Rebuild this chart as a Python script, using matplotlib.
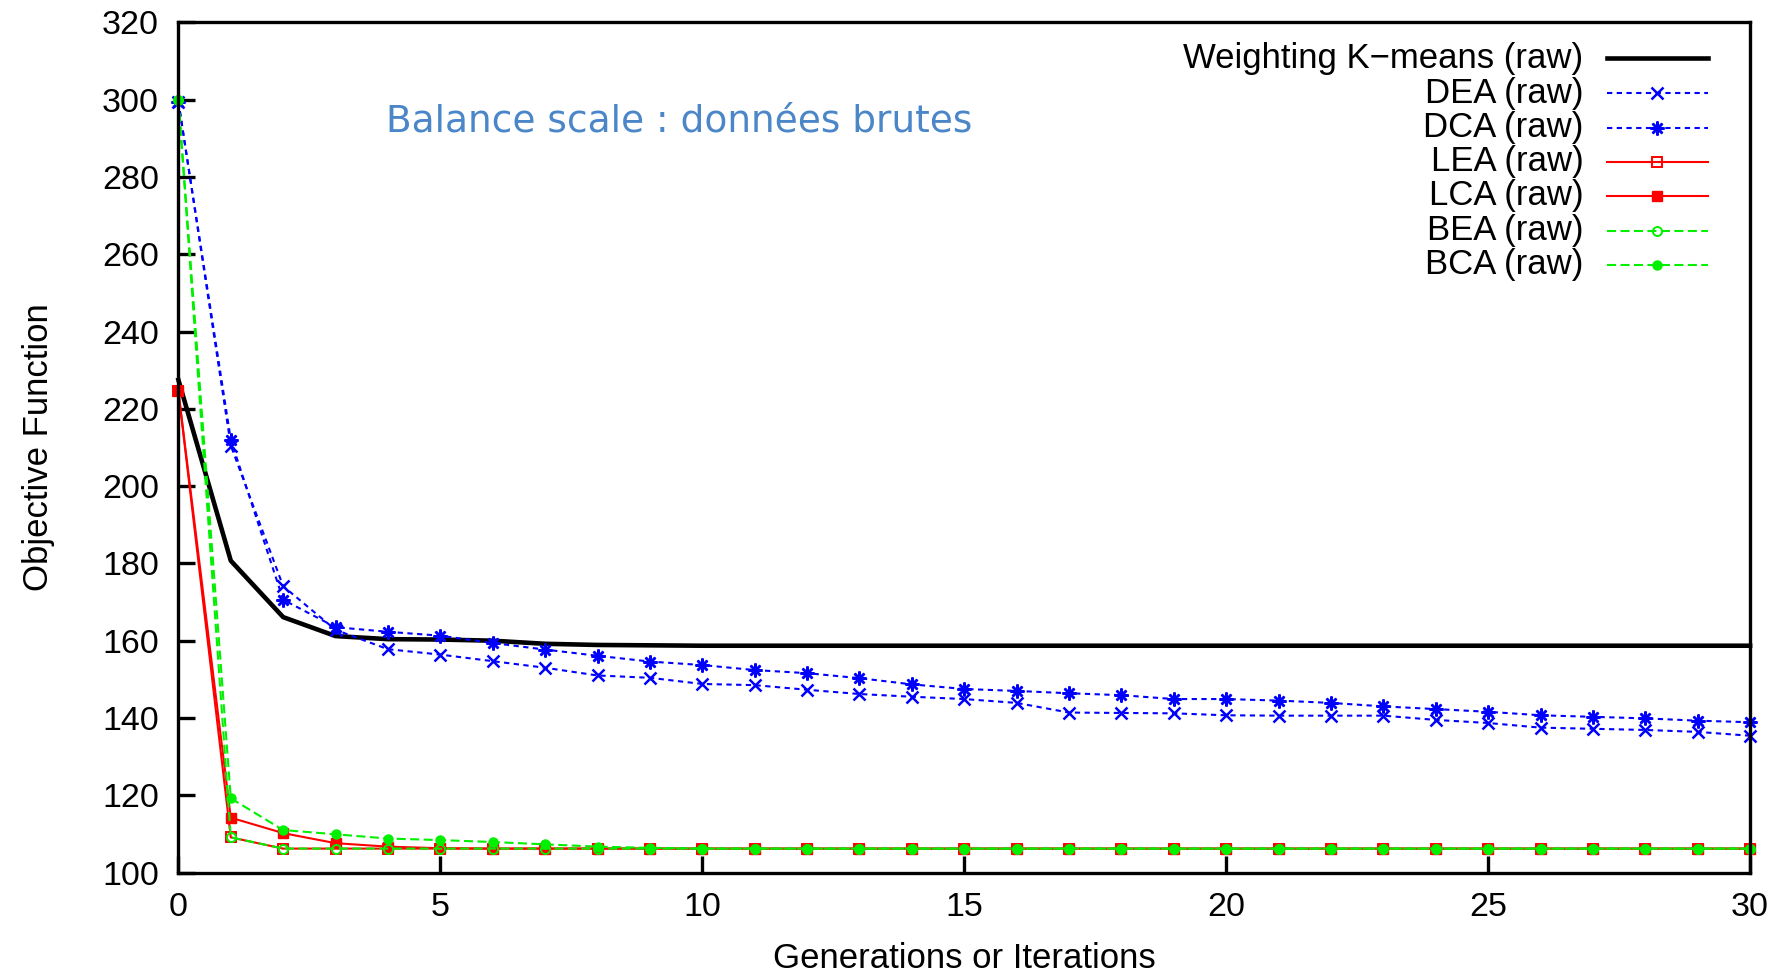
import matplotlib
matplotlib.use("Agg")
import matplotlib.pyplot as plt
import numpy as np

plt.rcParams['font.family'] = ['Liberation Sans', 'DejaVu Sans']
plt.rcParams['lines.scale_dashes'] = False

# generations / iterations
gens = np.arange(0, 31)

kmeans = [227.5, 180.7, 166.1, 161.2, 160.4, 160.3, 160.0, 159.2, 158.9, 158.8] + [158.7] * 21

dea = [299.5, 210.5, 174.1, 162.8, 157.8, 156.4, 154.7, 153.0, 151.0, 150.4,
       148.8, 148.5, 147.3, 146.2, 145.5, 144.9, 143.9, 141.4, 141.3, 141.2,
       140.7, 140.6, 140.6, 140.6, 139.5, 138.7, 137.5, 137.2, 136.9, 136.4, 135.4]
dca = [299.5, 212.0, 170.6, 163.5, 162.3, 161.3, 159.4, 157.7, 156.1, 154.6,
       153.7, 152.4, 151.6, 150.3, 148.7, 147.5, 147.0, 146.4, 145.9, 144.9,
       144.9, 144.5, 143.9, 143.0, 142.3, 141.6, 140.7, 140.3, 139.9, 139.3, 138.9]

lea = [224.5, 109.1] + [106.2] * 29
lca = [224.5, 114.2, 110.2, 107.6, 106.7, 106.3] + [106.2] * 25

bea = [300.0, 109.1] + [106.2] * 29
bca = [300.0, 119.2, 111.0, 109.9, 108.8, 108.4, 107.9, 107.3, 106.7, 106.4] + [106.2] * 21

labels = ["Weighting K\u2212means (raw)", "DEA (raw)", "DCA (raw)", "LEA (raw)",
          "LCA (raw)", "BEA (raw)", "BCA (raw)"]

star = (8, 2, 0)
green = '#00f000'
styles = [
    dict(color='black', lw=3.3, ls='-'),
    dict(color='#0000ff', lw=1.5, dashes=(3.8, 3.2), marker='x', ms=9, mew=1.8),
    dict(color='#0000ff', lw=1.5, dashes=(3.8, 3.2), marker=star, ms=10, mew=1.8),
    dict(color='#ff0000', lw=1.5, ls='-', marker='s', ms=7, mfc='none', mew=1.4),
    dict(color='#ff0000', lw=1.5, ls='-', marker='s', ms=7),
    dict(color=green, lw=1.5, dashes=(6.5, 3.2), marker='o', ms=6.5, mfc='none', mew=1.4),
    dict(color=green, lw=1.5, dashes=(6.5, 3.2), marker='o', ms=6.5),
]
series = [kmeans, dea, dca, lea, lca, bea, bca]

fig = plt.figure(figsize=(17.84, 9.76), dpi=100)
ax = fig.add_axes([0.100, 0.106, 0.881, 0.871])

for ys, st in zip(series, styles):
    ax.plot(gens, ys, clip_on=False, **st)

ax.set_xlim(0, 30)
ax.set_ylim(100, 320)
ax.set_xticks(np.arange(0, 31, 5))
ax.set_yticks(np.arange(100, 321, 20))
ax.tick_params(direction='in', length=12, width=2.4, labelsize=24.5, pad=14)
for sp in ax.spines.values():
    sp.set_linewidth(2.4)

ax.set_xlabel("Generations or Iterations", fontsize=25, labelpad=14)
ax.set_ylabel("Objective Function", fontsize=25, labelpad=34)

# gnuplot-like key: text right-aligned, sample on the right
key_y = [0.958, 0.917, 0.876, 0.836, 0.796, 0.755, 0.715]
for lab, st, ky in zip(labels, styles, key_y):
    ax.text(0.894, ky, lab, transform=ax.transAxes, ha='right', va='center', fontsize=25)
    ax.plot([0.909, 0.941, 0.973], [ky, ky, ky], transform=ax.transAxes,
            markevery=[1], clip_on=False, **st)

ax.text(0.132, 0.884, "Balance scale : données brutes", transform=ax.transAxes,
        ha='left', va='center', fontsize=27, color='#4a86c8', family='DejaVu Sans')

fig.savefig("out.png", dpi=100)
